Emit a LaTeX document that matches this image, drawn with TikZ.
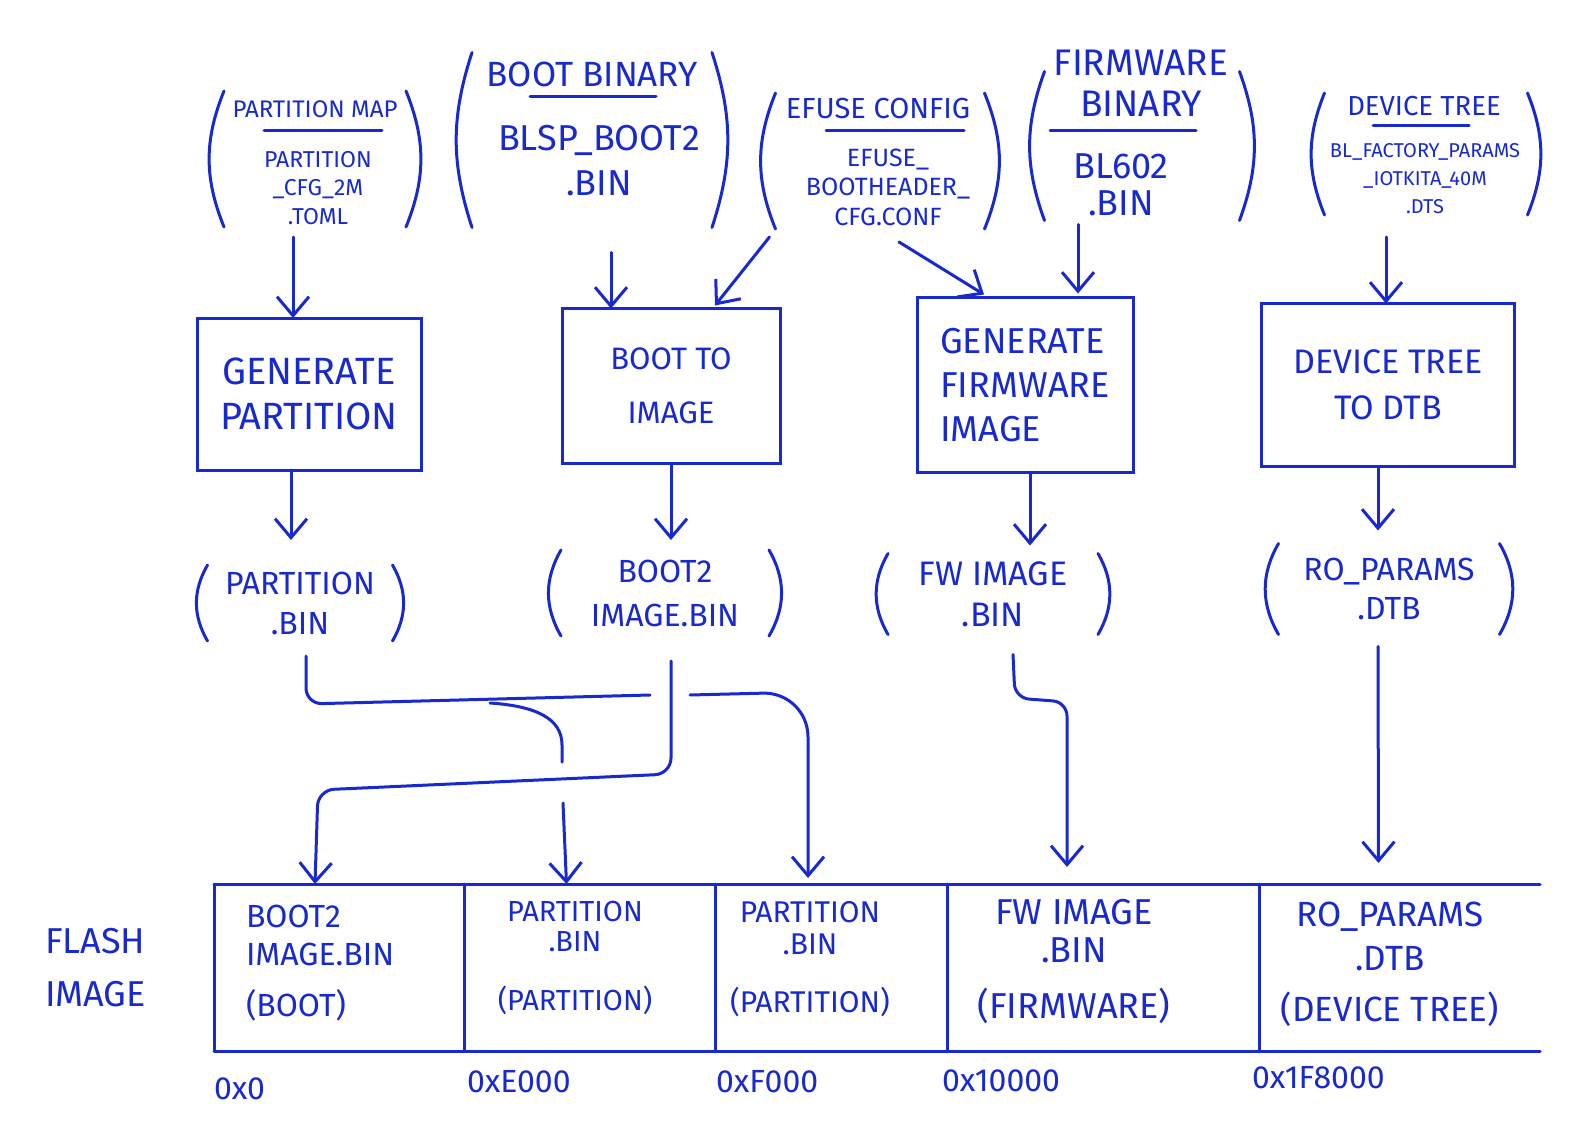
\documentclass[tikz,border=0pt]{standalone}
\usepackage{fontspec}
\setmainfont{Fira Sans}
\usetikzlibrary{arrows.meta}
\definecolor{ink}{RGB}{24,42,205}
\begin{document}
\begin{tikzpicture}[x=1pt,y=-1pt,
 every node/.style={text=ink, inner sep=0pt, outer sep=0pt},
 ln/.style={draw=ink, line width=3pt, line cap=round, line join=round},
 arr/.style={ln, -{Straight Barb[length=19pt,width=32pt]}},
 txt/.style 2 args={font=\fontsize{#1}{#2}\selectfont},
 procbox/.style 2 args={draw=ink, line width=3pt, minimum width=#1pt, minimum height=#2pt, align=center},
 filebox/.style n args={3}{minimum width=#1pt, minimum height=#2pt, align=center,
   append after command={(\tikzlastnode.north west) edge[ln, bend right=#3] (\tikzlastnode.south west)
     (\tikzlastnode.north east) edge[ln, bend left=#3] (\tikzlastnode.south east)}},
 slot/.style={minimum width=#1pt, minimum height=167pt},
 addr/.style={txt={32}{36}, anchor=north west}
]
\fill[white] (0,0) rectangle (1583,1137);
\useasboundingbox (0,0) rectangle (1583,1137);

% ---------- source files ----------
\node[filebox={182}{136}{22}] (s1) at (315,159) {};
\node[txt={24}{28}] (s1t) at (315,109) {PARTITION MAP};
\draw[ln] ([xshift=-51pt,yshift=-22pt]s1t.center) -- ([xshift=67pt,yshift=-22pt]s1t.center);
\node[txt={23}{28.5}, align=center] (s1b) at (318,188) {PARTITION\\\_CFG\_2M\\.TOML};

\node[filebox={240}{175}{18}] (s2) at (592,140) {};
\node[txt={35}{40}] (s2t) at (592,74) {BOOT BINARY};
\draw[ln] ([xshift=-62pt,yshift=-23pt]s2t.center) -- ([xshift=64pt,yshift=-23pt]s2t.center);
\node[txt={36}{45}, align=center] (s2b) at (599,161) {BLSP\_BOOT2\\.BIN};

\node[filebox={209}{136}{22}] (s3) at (880,161) {};
\node[txt={29}{30}] (s3t) at (878,109) {EFUSE CONFIG};
\draw[ln] ([xshift=-52pt,yshift=-22pt]s3t.center) -- ([xshift=86pt,yshift=-22pt]s3t.center);
\node[txt={25}{29.5}, align=center] (s3b) at (888,187) {EFUSE\_\\BOOTHEADER\_\\CFG.CONF};

\node[filebox={195}{149}{20}] (s4) at (1142,146) {};
\node[txt={37}{41}, align=center] (s4t) at (1141,83) {FIRMWARE\\BINARY};
\draw[ln] ([xshift=-91pt,yshift=-48pt]s4t.center) -- ([xshift=55pt,yshift=-48pt]s4t.center);
\node[txt={36}{37}, align=center] (s4b) at (1121,185) {BL602\\.BIN};

\node[filebox={203}{122}{22}] (s5) at (1426,154) {};
\node[txt={27.5}{30}] (s5t) at (1424,106) {DEVICE TREE};
\draw[ln] ([xshift=-51pt,yshift=-20pt]s5t.center) -- ([xshift=45pt,yshift=-20pt]s5t.center);
\node[txt={20}{28}, align=center] (s5b) at (1425,179) {BL\_FACTORY\_PARAMS\\\_IOTKITA\_40M\\.DTS};

% ---------- process boxes ----------
\node[procbox={224}{152}, txt={38}{45}] (b1) at (309,394) {GENERATE\\PARTITION};
\node[procbox={218}{155}, txt={31}{54}] (b2) at (671,386) {BOOT TO\\IMAGE};
\node[procbox={216}{175}, txt={36}{44}, align=left] (b3) at (1025,385) {GENERATE\\FIRMWARE\\IMAGE};
\node[procbox={253}{163}, txt={34}{46}] (b4) at (1388,385) {DEVICE TREE\\TO DTB};

% ---------- outputs ----------
\node[filebox={185}{76}{30}, txt={32}{40}] (o1) at (300,603) {PARTITION\\.BIN};
\node[filebox={208}{86}{30}, txt={32}{44}] (o2) at (665,593) {BOOT2\\IMAGE.BIN};
\node[filebox={210}{81}{30}, txt={34}{41}] (o3) at (993,594) {FW IMAGE\\.BIN};
\node[filebox={221}{91}{30}, txt={32}{39}] (o4) at (1389,589) {RO\_PARAMS\\.DTB};

% ---------- flash image ----------
\node[slot=250] (f1) at (339,967.5) {};
\node[slot=251] (f2) at (589.5,967.5) {};
\node[slot=232] (f3) at (831,967.5) {};
\node[slot=312] (f4) at (1103,967.5) {};
\node[slot=281] (f5) at (1399.5,967.5) {};
\draw[ln] (f1.north west) -- (f5.north east);
\draw[ln] (f1.south west) -- (f5.south east);
\draw[ln] (f1.north west) -- (f1.south west);
\draw[ln] (f1.north east) -- (f1.south east);
\draw[ln] (f2.north east) -- (f2.south east);
\draw[ln] (f3.north east) -- (f3.south east);
\draw[ln] (f4.north east) -- (f4.south east);

\node[txt={32}{38}, align=left, anchor=west] (f1t) at (246,963) {BOOT2\\IMAGE.BIN\\[13pt](BOOT)};
\node[txt={29}{30}, align=center] (f2t) at (575,958) {PARTITION\\.BIN\\[29pt](PARTITION)};
\node[txt={30}{32}, align=center] (f3t) at (810,959) {PARTITION\\.BIN\\[26pt](PARTITION)};
\node[txt={36}{38}, align=center] (f4t) at (1074,961) {FW IMAGE\\.BIN\\[18pt](FIRMWARE)};
\node[txt={35}{44}, align=center] (f5t) at (1390,964) {RO\_PARAMS\\.DTB\\[7pt](DEVICE TREE)};

\node[txt={36}{53}, align=left, anchor=west] (fl) at (45,968) {FLASH\\IMAGE};

\node[addr] (ad0) at ([yshift=-27pt]f1.south west) {0x0};
\node[addr] (ad1) at ([xshift=3pt,yshift=-19pt]f2.south west) {0xE000};
\node[addr] (ad2) at ([xshift=1pt,yshift=-19pt]f3.south west) {0xF000};
\node[addr] (ad3) at ([xshift=-5pt,yshift=-19pt]f4.south west) {0x10000};
\node[addr] (ad4) at ([xshift=-7pt,yshift=-15pt]f5.south west) {0x1F8000};

% ---------- connectors: sources -> boxes ----------
\draw[arr] ([xshift=-22pt,yshift=-10pt]s1.south) -- ([xshift=-16pt]b1.north);
\draw[arr] ([xshift=19pt,yshift=-25pt]s2.south) -- ([xshift=-60pt]b2.north);
\draw[arr] ([xshift=-6pt,yshift=-8pt]s3.south west) -- ([xshift=-65pt,yshift=3pt]b2.north east);
\draw[arr] ([xshift=19pt,yshift=-13pt]s3.south) -- ([xshift=-41pt,yshift=3pt]b3.north);
\draw[arr] ([xshift=-64pt,yshift=-4pt]s4.south) -- ([xshift=53pt,yshift=4pt]b3.north);
\draw[arr] ([xshift=-40pt,yshift=-22pt]s5.south) -- ([xshift=-2pt]b4.north);

% ---------- boxes -> outputs ----------
\draw[arr] ([xshift=-18pt]b1.south) -- ([xshift=-9pt,yshift=25pt]o1.north);
\draw[arr] (b2.south) -- ([xshift=6pt,yshift=10pt]o2.north);
\draw[arr] ([xshift=5pt]b3.south) -- ([xshift=37pt,yshift=8pt]o3.north);
\draw[arr] ([xshift=-10pt]b4.south) -- ([xshift=-11pt,yshift=13pt]o4.north);

% ---------- outputs -> flash ----------
\coordinate (pbr) at (490,703);
\coordinate (pc) at (306,704);
\coordinate (pA) at (650,695);
\coordinate (pB) at (690,695);
\coordinate (pg1) at (562,762);
\coordinate (pg2) at (563,803);
\coordinate (bc1) at (671,774);
\coordinate (bc2) at (318,790);
\coordinate (fc1) at (1015,698);
\coordinate (fc2) at (1067,702);
\coordinate (dc1) at (808,692);

\draw[ln, rounded corners=16pt] ([xshift=6pt,yshift=-15pt]o1.south) -- (pc) -- (pA);
\draw[ln] (pbr) .. controls (535,706) and (562,718) .. (562,745) -- (pg1);
\draw[arr] (pg2) -- ([xshift=-23pt]f2.north);
\draw[arr, rounded corners=45pt] (pB) -- (dc1) -- ([xshift=-23pt,yshift=6pt]f3.north);
\draw[arr, rounded corners=16pt] ([xshift=6pt,yshift=-25pt]o2.south) -- (bc1) -- (bc2) -- ([xshift=-24pt]f1.north);
\draw[arr, rounded corners=14pt] ([xshift=20pt,yshift=-20pt]o3.south) -- (fc1) -- (fc2) -- ([xshift=-36pt,yshift=17pt]f4.north);
\draw[arr] ([xshift=-11pt,yshift=-12pt]o4.south) -- ([xshift=-21pt,yshift=21pt]f5.north);
\end{tikzpicture}
\end{document}
